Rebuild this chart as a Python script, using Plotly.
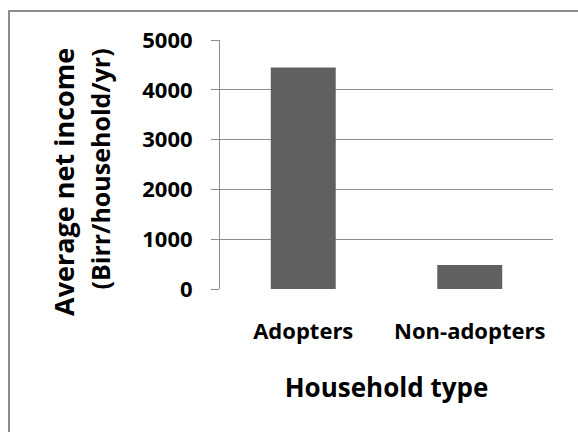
import plotly.graph_objects as go

categories = ["Adopters", "Non-adopters"]
net_income = [4450, 480]
y_ticks = [0, 1000, 2000, 3000, 4000, 5000]

W, H = 578, 432
L, R, T, B = 220, 25, 40, 143
pw, ph = W - L - R, H - T - B

def px(x):
    return (x - L) / pw

def py(y):
    return (H - B - y) / ph

FONT = "Open Sans"
fig = go.Figure(go.Bar(x=categories, y=net_income, marker=dict(color="#606060", line=dict(width=0)),
                       width=0.39))

fig.update_layout(
    width=W, height=H, margin=dict(l=L, r=R, t=T, b=B),
    paper_bgcolor="white", plot_bgcolor="white", showlegend=False,
    font=dict(family=FONT, color="black"),
    xaxis=dict(showline=False, ticks="", showgrid=False, ticklabelstandoff=27,
               tickfont=dict(size=22, family=FONT, weight="bold"),
               title=dict(text="<b>Household type</b>", font=dict(size=26, family=FONT), standoff=34)),
    yaxis=dict(range=[0, 5000], tickvals=y_ticks, showgrid=True, gridcolor="#8c8c8c", gridwidth=1,
               showline=True, linecolor="#8c8c8c", linewidth=1, ticks="outside", ticklen=8,
               tickcolor="#8c8c8c", zeroline=False, ticklabelstandoff=14,
               tickfont=dict(size=22, family=FONT, weight="bold")),
    annotations=[
        dict(text="<b>Average net income</b>", textangle=-90,
             xref="paper", yref="paper", x=px(63), y=py(46), xanchor="center", yanchor="top",
             showarrow=False, font=dict(size=27, family=FONT)),
        dict(text="<b>(Birr/household/yr)</b>", textangle=-90,
             xref="paper", yref="paper", x=px(99), y=py(46), xanchor="center", yanchor="top",
             showarrow=False, font=dict(size=25, family=FONT)),
    ],
    shapes=[dict(type="rect", xref="paper", yref="paper", x0=px(9), x1=px(600), y0=py(11), y1=py(460),
                 line=dict(color="#8c8c8c", width=2), layer="below")],
)
fig.write_html("out.html")
